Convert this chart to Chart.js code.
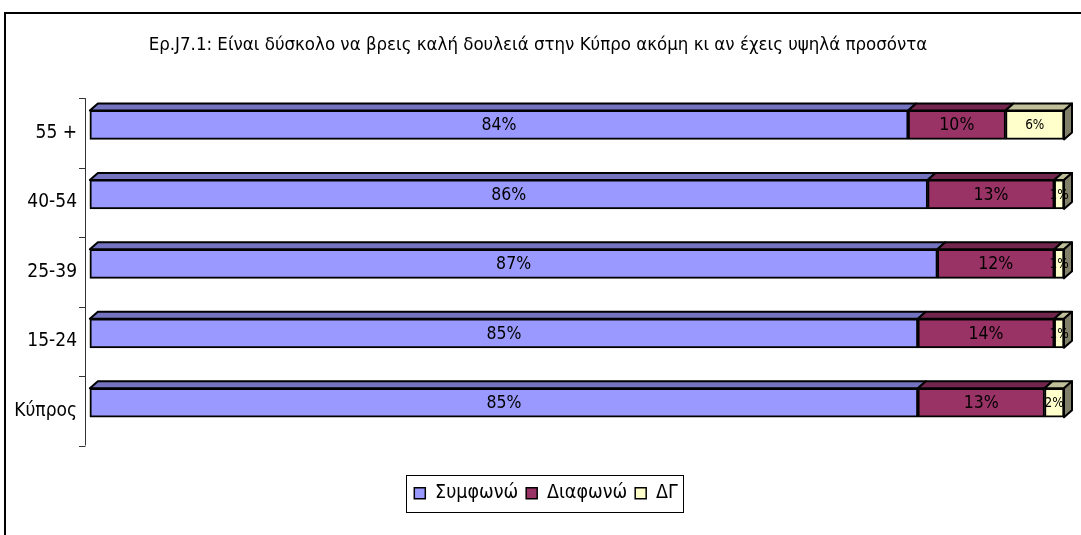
<!DOCTYPE html>
<html>
<head>
<meta charset="utf-8">
<script src="https://cdn.jsdelivr.net/npm/chart.js@4"></script>
<style>
  body { margin: 0; background: #fff; }
</style>
</head>
<body>
<canvas id="myChart" width="1081" height="535"></canvas>
<script>
const categories = ['55 +', '40-54', '25-39', '15-24', 'Κύπρος'];
const agree = [84, 86, 87, 85, 85];
const disagree = [10, 13, 12, 14, 13];
const dontKnow = [6, 1, 1, 1, 2];
const seriesNames = ['Συμφωνώ', 'Διαφωνώ', 'ΔΓ'];

const FONT = '"DejaVu Sans Condensed", "DejaVu Sans", sans-serif';

// colours: front, top, side
const colors = [
    { front: '#9999FF', top: '#7373BF', side: '#5C5C99' },
    { front: '#993366', top: '#73264D', side: '#5C1F3D' },
    { front: '#FFFFCC', top: '#BFBF99', side: '#80806A' }
];

const DX = 8, DY = 7;

const depthPlugin = {
    id: 'depth3d',
    afterDatasetsDraw(chart) {
        const ctx = chart.ctx;
        const n = chart.data.datasets.length;
        ctx.save();
        ctx.lineWidth = 2;
        ctx.strokeStyle = '#000';
        ctx.lineJoin = 'round';
        for (let i = 0; i < n; i++) {
            const meta = chart.getDatasetMeta(i);
            meta.data.forEach((bar) => {
                const p = bar.getProps(['x', 'y', 'base', 'height'], true);
                const top = p.y - p.height / 2;
                const bottom = p.y + p.height / 2;
                // top face
                ctx.beginPath();
                ctx.moveTo(p.base, top);
                ctx.lineTo(p.base + DX, top - DY);
                ctx.lineTo(p.x + DX, top - DY);
                ctx.lineTo(p.x, top);
                ctx.closePath();
                ctx.fillStyle = colors[i].top;
                ctx.fill();
                ctx.stroke();
                if (i === n - 1) {
                    ctx.beginPath();
                    ctx.moveTo(p.x, top);
                    ctx.lineTo(p.x + DX, top - DY);
                    ctx.lineTo(p.x + DX, bottom - DY);
                    ctx.lineTo(p.x, bottom);
                    ctx.closePath();
                    ctx.fillStyle = colors[i].side;
                    ctx.fill();
                    ctx.stroke();
                }
            });
        }
        // value labels
        ctx.fillStyle = '#000';
        ctx.textAlign = 'center';
        ctx.textBaseline = 'middle';
        for (let i = 0; i < n; i++) {
            const meta = chart.getDatasetMeta(i);
            ctx.font = (i === 2 ? '13.5px ' : '17.5px ') + FONT;
            meta.data.forEach((bar, j) => {
                const p = bar.getProps(['x', 'y', 'base'], true);
                ctx.fillText(chart.data.datasets[i].data[j] + '%', (p.x + p.base) / 2, p.y + 1);
            });
        }
        ctx.restore();
    }
};

const framePlugin = {
    id: 'frame',
    afterLayout(chart) {
        // nudge title and legend to the right, as in the original
        const t = chart.titleBlock;
        if (t) { t.left += 6; t.right += 6; }
        const lg = chart.legend;
        if (lg) {
            lg.left += 14; lg.right += 14;
            lg.top += 2; lg.bottom += 2;
        }
    },
    beforeDraw(chart) {
        const ctx = chart.ctx;
        ctx.save();
        ctx.fillStyle = '#fff';
        ctx.fillRect(0, 0, chart.width, chart.height);
        ctx.lineWidth = 2;
        ctx.strokeStyle = '#000';
        ctx.strokeRect(5, 13, chart.width + 10, chart.height + 10);
        ctx.restore();
    },
    afterDraw(chart) {
        const ctx = chart.ctx;
        ctx.save();
        // category axis, drawn a little lower like the 3d back wall
        const ys = chart.scales.y;
        const n = categories.length;
        const step = ys.height / n;
        const shift = 8;
        ctx.strokeStyle = '#333';
        ctx.lineWidth = 1;
        ctx.beginPath();
        ctx.moveTo(ys.right + 0.5, ys.top + shift);
        ctx.lineTo(ys.right + 0.5, ys.bottom + shift);
        for (let i = 0; i <= n; i++) {
            const yy = Math.round(ys.top + i * step + shift) + 0.5;
            ctx.moveTo(ys.right - 6, yy);
            ctx.lineTo(ys.right + 0.5, yy);
        }
        ctx.stroke();
        // legend frame
        const boxes = chart.legend.legendHitBoxes;
        if (boxes && boxes.length) {
            const first = boxes[0];
            const last = boxes[boxes.length - 1];
            const cy = first.top + first.height / 2;
            ctx.strokeStyle = '#000';
            ctx.strokeRect(Math.round(first.left - 8) + 0.5, Math.round(cy - 18) + 0.5,
                Math.round(last.left + last.width - first.left + 14), 37);
        }
        ctx.restore();
    }
};

new Chart(document.getElementById('myChart'), {
    type: 'bar',
    data: {
        labels: categories,
        datasets: [agree, disagree, dontKnow].map((d, i) => ({
            label: seriesNames[i],
            data: d,
            backgroundColor: colors[i].front,
            borderColor: '#000',
            borderWidth: 2,
            borderSkipped: false,
            barThickness: 29
        }))
    },
    options: {
        indexAxis: 'y',
        responsive: false,
        animation: false,
        layout: { padding: { left: 0, right: 17, top: 0, bottom: 24 } },
        scales: {
            x: {
                stacked: true,
                min: -0.5,
                max: 100,
                display: true,
                ticks: { display: false },
                grid: { display: false },
                border: { display: false },
                afterFit(scale) { scale.height = 36; }
            },
            y: {
                stacked: true,
                offset: true,
                afterFit(scale) { scale.width = 85; },
                border: { display: false },
                grid: { display: false },
                ticks: { color: '#000', font: { family: FONT, size: 19 }, padding: 0, labelOffset: 8 }
            }
        },
        plugins: {
            title: {
                display: true,
                text: 'Ερ.J7.1: Είναι δύσκολο να βρεις καλή δουλειά στην Κύπρο ακόμη κι αν έχεις υψηλά προσόντα',
                color: '#000',
                font: { family: FONT, size: 18.5, weight: 'normal' },
                padding: { top: 34, bottom: 34 }
            },
            legend: {
                position: 'bottom',
                labels: {
                    color: '#000',
                    font: { family: FONT, size: 19.5 },
                    boxWidth: 11,
                    boxHeight: 11,
                    padding: 8,
                    generateLabels(chart) {
                        return chart.data.datasets.map((ds, i) => ({
                            text: ds.label,
                            fillStyle: colors[i].front,
                            strokeStyle: '#000',
                            lineWidth: 1.5,
                            datasetIndex: i
                        }));
                    }
                }
            },
            tooltip: { enabled: false }
        }
    },
    plugins: [depthPlugin, framePlugin]
});
</script>
</body>
</html>
